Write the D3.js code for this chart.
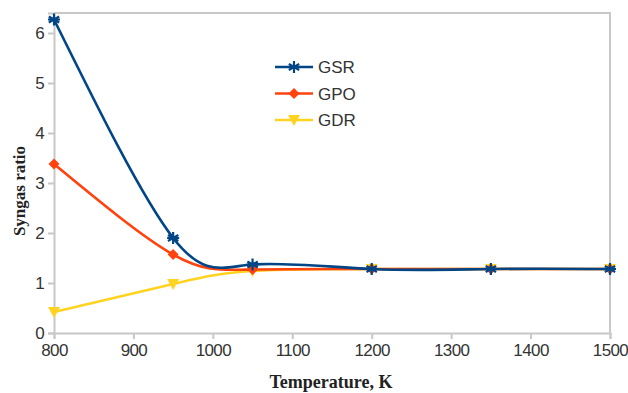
<!DOCTYPE html>
<html lang="en">
<head>
<meta charset="utf-8">
<title>Syngas ratio vs temperature</title>
<script src="https://d3js.org/d3.v7.min.js"></script>
<style>
  body { margin: 0; background: #fff; }
  .tick text { font-family: "Liberation Sans", Arial, sans-serif; font-size: 17px; letter-spacing: -0.6px; fill: #333; }
  .axis-title { font-family: "Liberation Serif", "Times New Roman", serif; font-weight: bold; fill: #222; }
  .legend text { font-family: "Liberation Sans", Arial, sans-serif; font-size: 17px; fill: #333; }
</style>
</head>
<body>
<script>
'use strict';

// temperature points (K)
var temps = [800, 950, 1050, 1200, 1350, 1500];
// syngas ratios per process
var gsr = [6.27, 1.90, 1.37, 1.28, 1.28, 1.28];
var gpo = [3.38, 1.57, 1.27, 1.28, 1.28, 1.28];
var gdr = [0.42, 0.98, 1.24, 1.28, 1.28, 1.28];
var xTicks = [800, 900, 1000, 1100, 1200, 1300, 1400, 1500];
var yTicks = [0, 1, 2, 3, 4, 5, 6];

var series = [
  { name: "GSR", values: gsr, color: "#004586", marker: "star" },
  { name: "GPO", values: gpo, color: "#ff420e", marker: "diamond" },
  { name: "GDR", values: gdr, color: "#ffd320", marker: "triangle" }
];
// draw order: yellow at the back, blue on top
var drawOrder = [series[2], series[1], series[0]];

var w = 628, h = 393;
var margin = { left: 54, right: 18, top: 13, bottom: 60 };

var x = d3.scaleLinear().domain([800, 1500]).range([margin.left, w - margin.right]);
var y = d3.scaleLinear().domain([0, 6.4]).range([h - margin.bottom, margin.top]);

var svg = d3.select("body").append("svg").attr("width", w).attr("height", h);

// plot frame (top and right)
svg.append("path")
  .attr("d", "M" + x(800) + "," + y(6.4) + "H" + x(1500) + "V" + y(0))
  .attr("fill", "none").attr("stroke", "#c8c8c8").attr("stroke-width", 2);

var xAxis = svg.append("g")
  .attr("transform", "translate(0," + y(0) + ")")
  .call(d3.axisBottom(x).tickValues(xTicks).tickSize(6).tickPadding(5).tickFormat(d3.format("d")));
var yAxis = svg.append("g")
  .attr("transform", "translate(" + x(800) + ",0)")
  .call(d3.axisLeft(y).tickValues(yTicks).tickSize(6).tickPadding(4).tickFormat(d3.format("d")));
[xAxis, yAxis].forEach(function(g) {
  g.select(".domain").attr("stroke", "#c8c8c8").attr("stroke-width", 2);
  g.selectAll(".tick line").attr("stroke", "#c8c8c8").attr("stroke-width", 2);
});

svg.append("text").attr("class", "axis-title")
  .attr("x", 331).attr("y", 388).attr("text-anchor", "middle")
  .style("font-size", "18px")
  .text("Temperature, K");
svg.append("text").attr("class", "axis-title")
  .attr("transform", "translate(25,191) rotate(-90)")
  .attr("text-anchor", "middle")
  .style("font-size", "17px")
  .text("Syngas ratio");

var line = d3.line()
  .x(function(d, i) { return x(temps[i]); })
  .y(function(d) { return y(d); })
  .curve(d3.curveNatural);

function marker(sel, kind, color) {
  if (kind === "star") {
    var p = "";
    [0, 60, 120].forEach(function(a) {
      var rad = a * Math.PI / 180, dx = 6 * Math.sin(rad), dy = 6 * Math.cos(rad);
      p += "M" + (-dx) + "," + (-dy) + "L" + dx + "," + dy;
    });
    p += "M-6,0L6,0";
    sel.append("path").attr("d", p).attr("stroke", color).attr("stroke-width", 2.2).attr("fill", "none");
  } else if (kind === "diamond") {
    sel.append("path").attr("d", "M0,-5.5L5.5,0L0,5.5L-5.5,0Z").attr("fill", color);
  } else {
    sel.append("path").attr("d", "M-6,-5L6,-5L0,6Z").attr("fill", color);
  }
}

drawOrder.forEach(function(s) {
  svg.append("path").datum(s.values)
    .attr("d", line)
    .attr("fill", "none").attr("stroke", s.color).attr("stroke-width", 2.6);
});
drawOrder.forEach(function(s) {
  s.values.forEach(function(v, i) {
    var g = svg.append("g").attr("transform", "translate(" + x(temps[i]) + "," + y(v) + ")");
    marker(g, s.marker, s.color);
  });
});

// legend
var legend = svg.append("g").attr("class", "legend");
series.forEach(function(s, i) {
  var ly = 67 + i * 26.5;
  var g = legend.append("g").attr("transform", "translate(0," + ly + ")");
  g.append("line").attr("x1", 275).attr("x2", 313).attr("y1", 0).attr("y2", 0)
    .attr("stroke", s.color).attr("stroke-width", 2.6);
  marker(g.append("g").attr("transform", "translate(294,0)"), s.marker, s.color);
  g.append("text").attr("x", 318).attr("y", 6).text(s.name);
});
</script>
</body>
</html>
